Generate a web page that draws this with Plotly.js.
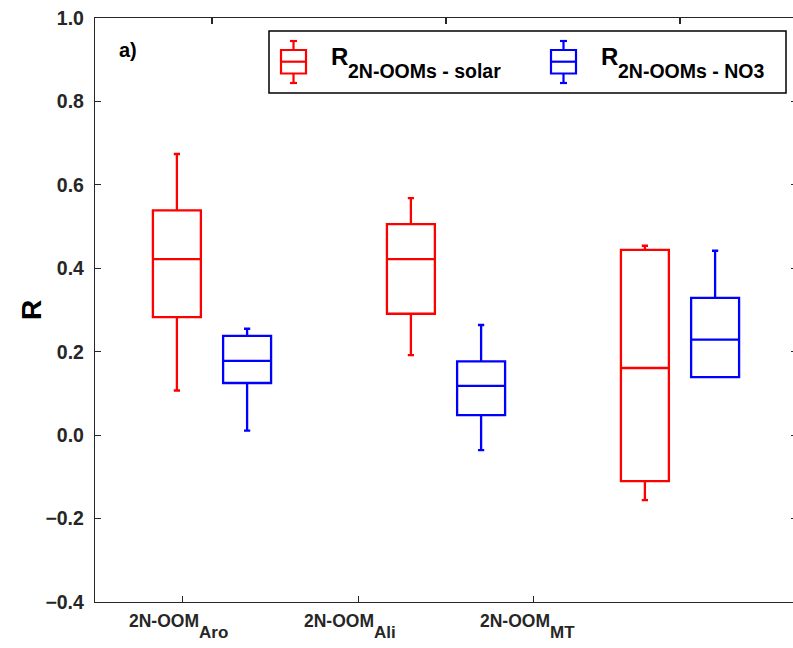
<!DOCTYPE html>
<html>
<head>
<meta charset="utf-8">
<script src="https://cdn.plot.ly/plotly-3.0.1.min.js"></script>
<style>
html,body{margin:0;padding:0;overflow:hidden;background:#fff;}
#chart{width:800px;height:648px;}
</style>
</head>
<body>
<div id="chart"></div>
<script>
// ---- data ----
const categoryMain = ['2N-OOM', '2N-OOM', '2N-OOM'];
const categorySub = ['Aro', 'Ali', 'MT'];
const seriesMain = ['R', 'R'];
const seriesSub = ['2N-OOMs - solar', '2N-OOMs - NO3'];

const solarLower  = [0.107, 0.192, -0.156];
const solarQ1     = [0.283, 0.291, -0.110];
const solarMedian = [0.422, 0.422, 0.161];
const solarQ3     = [0.539, 0.506, 0.444];
const solarUpper  = [0.674, 0.568, 0.454];

const no3Lower  = [0.011, -0.036, 0.139];
const no3Q1     = [0.125, 0.048, 0.139];
const no3Median = [0.178, 0.118, 0.229];
const no3Q3     = [0.238, 0.177, 0.329];
const no3Upper  = [0.255, 0.264, 0.442];

const yTicks = [-0.4, -0.2, 0.0, 0.2, 0.4, 0.6, 0.8, 1.0];

// ---- layout helpers ----
const W = 800, H = 648;
const M = {l: 95, r: 3, t: 18, b: 46};
const PW = W - M.l - M.r, PH = H - M.t - M.b;
const px = x => (x - M.l) / PW;
const py = y => (H - M.b - y) / PH;

const RED = '#ff0000', BLUE = '#0000ff', AX = '#262626';
const FONT = 'Liberation Sans, Arial, Helvetica, sans-serif';

const idx = categoryMain.map((c, i) => i + 1);
const offset = 0.15;

function boxTrace(name, color, pos, lo, q1, med, q3, up) {
  return {
    type: 'box', name: name, xaxis: 'x2', yaxis: 'y',
    x: pos, lowerfence: lo, q1: q1, median: med, q3: q3, upperfence: up,
    width: 0.205, whiskerwidth: 0.13,
    line: {color: color, width: 2.3},
    fillcolor: 'rgba(0,0,0,0)',
    boxpoints: false, showlegend: false, hoverinfo: 'skip'
  };
}

const data = [
  // empty trace so the bottom (label) axis is drawn
  {type: 'scatter', mode: 'markers', x: [null], y: [null], xaxis: 'x', yaxis: 'y', showlegend: false, hoverinfo: 'skip'},
  boxTrace(seriesSub[0], RED, idx.map(i => i - offset), solarLower, solarQ1, solarMedian, solarQ3, solarUpper),
  boxTrace(seriesSub[1], BLUE, idx.map(i => i + offset), no3Lower, no3Q1, no3Median, no3Q3, no3Upper)
];

// custom legend (MATLAB-style box glyphs)
const shapes = [
  {type: 'rect', xref: 'paper', yref: 'paper', x0: px(269), x1: px(786), y0: py(93), y1: py(31),
   line: {color: '#000', width: 1.5}, fillcolor: 'rgba(0,0,0,0)'}
];
function glyph(cx, color) {
  const hw = 12.5, cap = 3.5;
  const L = {color: color, width: 2.2};
  const s = (x0, y0, x1, y1) => shapes.push({type: 'line', xref: 'paper', yref: 'paper', x0: px(x0), x1: px(x1), y0: py(y0), y1: py(y1), line: L});
  shapes.push({type: 'rect', xref: 'paper', yref: 'paper', x0: px(cx - hw), x1: px(cx + hw), y0: py(73.5), y1: py(50), line: L});
  s(cx - hw, 61.7, cx + hw, 61.7);
  s(cx, 50, cx, 41);
  s(cx, 73.5, cx, 83);
  s(cx - cap, 41, cx + cap, 41);
  s(cx - cap, 83, cx + cap, 83);
}
glyph(293.5, RED);
glyph(563.5, BLUE);

const legFontMain = {family: FONT, size: 24, color: '#000', weight: 'bold'};
const legFontSub = {family: FONT, size: 19.5, color: '#000', weight: 'bold'};
const annotations = [
  {text: seriesMain[0], xref: 'paper', yref: 'paper', x: px(329), y: py(57), xanchor: 'left', yanchor: 'middle', showarrow: false, font: legFontMain},
  {text: seriesSub[0], xref: 'paper', yref: 'paper', x: px(346), y: py(70.5), xanchor: 'left', yanchor: 'middle', showarrow: false, font: legFontSub},
  {text: seriesMain[1], xref: 'paper', yref: 'paper', x: px(599), y: py(57), xanchor: 'left', yanchor: 'middle', showarrow: false, font: legFontMain},
  {text: seriesSub[1], xref: 'paper', yref: 'paper', x: px(616), y: py(70.5), xanchor: 'left', yanchor: 'middle', showarrow: false, font: legFontSub},
  {text: 'a)', xref: 'paper', yref: 'paper', x: px(117), y: py(50), xanchor: 'left', yanchor: 'middle',
   showarrow: false, font: {family: FONT, size: 20, color: '#000', weight: 'bold'}},
  {text: 'R', xref: 'paper', yref: 'paper', x: px(31), y: py(310), xanchor: 'center', yanchor: 'middle',
   textangle: -90, showarrow: false, font: {family: FONT, size: 28, color: '#000', weight: 'bold'}}
];

// category labels (main text + subscript) placed on the bottom axis scale
const xlabMain = {family: FONT, size: 17.5, color: AX, weight: 'bold'};
const xlabSub = {family: FONT, size: 17, color: AX, weight: 'bold'};
idx.forEach((v, i) => {
  annotations.push({text: categoryMain[i], xref: 'x', yref: 'paper', x: v, y: py(620.5), xanchor: 'right', yanchor: 'middle',
    xshift: 18, showarrow: false, font: xlabMain});
  annotations.push({text: categorySub[i], xref: 'x', yref: 'paper', x: v, y: py(632.5), xanchor: 'left', yanchor: 'middle',
    xshift: 14, showarrow: false, font: xlabSub});
});

const layout = {
  width: W, height: H,
  margin: M,
  paper_bgcolor: '#fff', plot_bgcolor: '#fff',
  showlegend: false,
  boxmode: 'overlay',
  font: {family: FONT, color: AX},
  xaxis: {
    range: [0.5, 4.5], tickvals: idx, showticklabels: false,
    showgrid: false, zeroline: false, showline: true, linecolor: AX, linewidth: 1.2,
    ticks: 'inside', ticklen: 6, tickwidth: 1.2, tickcolor: AX,
    fixedrange: true
  },
  xaxis2: {
    overlaying: 'x', side: 'top', anchor: 'y',
    range: [0.5, 3.5], tickvals: idx, showticklabels: false,
    showgrid: false, zeroline: false, showline: true, linecolor: AX, linewidth: 1.2,
    ticks: 'inside', ticklen: 6, tickwidth: 1.2, tickcolor: AX,
    fixedrange: true
  },
  yaxis: {
    range: [-0.4, 1.0], tickvals: yTicks, tickformat: '.1f',
    showgrid: false, zeroline: false, showline: true, mirror: 'ticks', linecolor: AX, linewidth: 1.2,
    ticks: 'inside', ticklen: 6, tickwidth: 1.2, tickcolor: AX,
    ticklabelstandoff: 6,
    tickfont: {family: FONT, size: 19.5, color: AX, weight: 'bold'},
    fixedrange: true
  },
  shapes: shapes,
  annotations: annotations
};

Plotly.newPlot('chart', data, layout, {displayModeBar: false, staticPlot: true});
</script>
</body>
</html>
